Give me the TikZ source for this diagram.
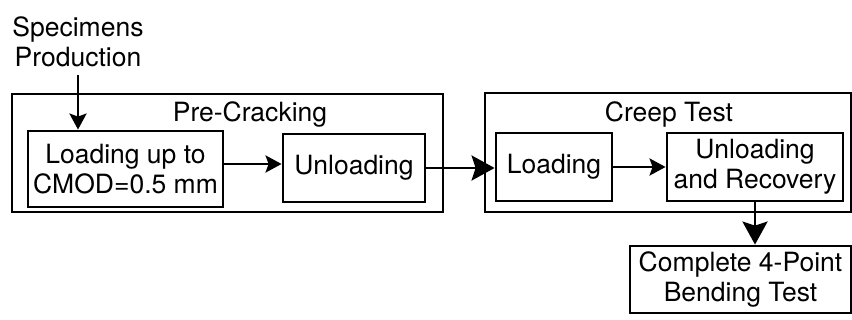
\documentclass[tikz,border=0pt]{standalone}
\usepackage{fontspec}
\setmainfont{TeX Gyre Heros}
\usetikzlibrary{arrows.meta,calc}
\begin{document}
\begin{tikzpicture}[x=1pt,y=-1pt,
  every node/.style={font=\fontsize{26.5}{30}\selectfont},
  box/.style={draw,line width=2.8pt,inner sep=0pt,align=center},
  txt/.style={inner sep=0pt,align=center},
  sarr/.style={line width=2.8pt,-{Stealth[length=16pt,width=17pt,inset=3pt]}},
  barr/.style={line width=2.8pt,-{Stealth[length=23pt,width=25pt,inset=4pt]}}]
\useasboundingbox (0,0) rectangle (852,320);
% outer groups
\node[box,minimum width=431pt,minimum height=118pt] (pre) at (227.5,153) {};
\node[box,minimum width=366pt,minimum height=119pt] (creep) at (668,152.5) {};
% titles
\node[txt,anchor=base] (pret) at (250,122) {Pre-Cracking};
\node[txt,anchor=base] (creept) at (669,122) {Creep Test};
% start text
\node[txt] (spec) at (78,42) {Specimens\\Production};
% inner boxes
\node[box,minimum width=195pt,minimum height=76pt] (ld1) at (125.5,169) {Loading up to\\CMOD=0.5 mm};
\node[box,minimum width=142pt,minimum height=68pt] (un1) at (354,168) {Unloading};
\node[box,minimum width=116pt,minimum height=68pt] (ld2) at (554,167) {Loading};
\node[box,minimum width=176pt,minimum height=68pt] (ur) at (755,167) {Unloading\\and Recovery};
\node[box,minimum width=221pt,minimum height=67pt] (cp) at (740.5,279.5) {Complete 4-Point\\Bending Test};
% connectors
\draw[sarr,shorten <=8pt] (spec.south) -- (spec.south |- ld1.north);
\draw[sarr] ([yshift=5pt]ld1.east) -- ([yshift=5pt]ld1.east -| un1.west);
\draw[barr] (un1.east) -- (un1.east -| ld2.west);
\draw[sarr] (ld2.east) -- (ld2.east -| ur.west);
\draw[barr] (ur.south) -- (ur.south |- cp.north);
\end{tikzpicture}
\end{document}
